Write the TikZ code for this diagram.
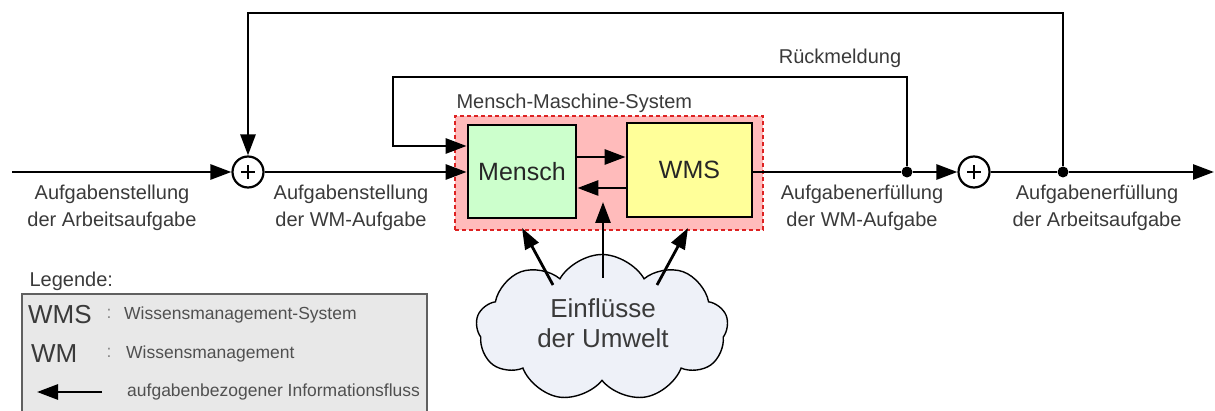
\documentclass[tikz,border=0pt]{standalone}
\usepackage{fontspec}
\setmainfont{Liberation Sans}
\usetikzlibrary{arrows.meta,shapes.symbols,calc}
\definecolor{txt}{HTML}{3A3A3A}
\definecolor{lgtxt}{HTML}{505050}
\definecolor{mfill}{HTML}{CCFFCC}
\definecolor{wfill}{HTML}{FFFF99}
\definecolor{rfill}{HTML}{FFBBBB}
\definecolor{rdash}{HTML}{DD2222}
\definecolor{cfill}{HTML}{EEF1F8}
\definecolor{lgfill}{HTML}{E8E8E8}
\definecolor{lgdraw}{HTML}{606060}
\begin{document}
\begin{tikzpicture}[x=1pt,y=-1pt,
  lbl/.style={font=\fontsize{20}{27}\selectfont, text=txt, align=center},
  ln/.style={line width=2.8pt},
  arr/.style={line width=2.8pt, -{Triangle[length=21pt,width=15pt]}},
  sumnode/.style={circle, draw, line width=2.2pt, minimum size=31pt, inner sep=0pt, fill=white,
    path picture={\draw[line width=1.8pt] ([xshift=-7pt]path picture bounding box.center) -- ([xshift=7pt]path picture bounding box.center);
                  \draw[line width=1.8pt] ([yshift=-7pt]path picture bounding box.center) -- ([yshift=7pt]path picture bounding box.center);}},
  jdot/.style={circle, fill=black, minimum size=11pt, inner sep=0pt},
  blockbox/.style={draw, line width=2.8pt, font=\fontsize{25}{30}\selectfont, text=black!85}
]
\useasboundingbox (0,0) rectangle (1215,411);

% Mensch-Maschine-System
\node[draw=rdash, fill=rfill, dashed, dash pattern=on 4pt off 3pt, line width=2.2pt,
      minimum width=308pt, minimum height=114pt, inner sep=0pt] (mms) at (609,173) {};
\node[anchor=base west, font=\fontsize{20}{24}\selectfont, text=txt] (mmslbl) at (453,109) {Mensch-Maschine-System};

\node[blockbox, fill=mfill, minimum width=108pt, minimum height=93pt, inner sep=0pt] (mensch) at (522,171.5) {Mensch};
\node[blockbox, fill=wfill, minimum width=125pt, minimum height=94pt, inner sep=0pt] (wms) at (689.5,170) {WMS};

% sums and junctions
\node[sumnode] (s1) at (248,172) {};
\node[sumnode] (s2) at (974,172) {};
\node[jdot] (j1) at (907,172) {};
\node[jdot] (j2) at (1063,172) {};

\coordinate (in) at (12,172);
\coordinate (out) at (1214,172);
\coordinate (tc) at (1063,13);
\coordinate (rb) at (393,77);
\coordinate (fb) at (393,146);

% main flow
\draw[arr] (in) -- (s1.west);
\draw[arr] (s1.east) -- (mensch.west |- s1);
\draw[ln] (wms.east |- j1) -- (j1);
\draw[arr] (j1) -- (s2.west);
\draw[ln] (s2.east) -- (j2);
\draw[arr] (j2) -- (out);

% feedback loops
\draw[arr] (j2) -- (tc) -| (s1.north);
\draw[arr] (j1) |- (rb) -- (fb) -- (mensch.west |- fb);

% inner arrows
\coordinate (up) at (576,157);
\coordinate (dn) at (576,188);
\draw[arr] (mensch.east |- up) -- (wms.west |- up);
\draw[arr] (wms.west |- dn) -- (mensch.east |- dn);

% cloud
\node[cloud, cloud puffs=9, cloud puff arc=120, cloud ignores aspect, draw, line width=1.4pt, fill=cfill,
      minimum width=252pt, minimum height=147pt, inner sep=0pt] (cloud) at (602,328) {};
\node[font=\fontsize{26}{30}\selectfont, text=txt, align=center] (cloudtxt) at (603,323) {Einflüsse\\der Umwelt};
\coordinate (a1) at (553,285);
\coordinate (b1) at (522,228);
\coordinate (a2) at (603,278);
\coordinate (b2) at (603,202);
\coordinate (a3) at (657,285);
\coordinate (b3) at (688,228);
\draw[arr] (a1) -- (b1);
\draw[arr] (a2) -- (b2);
\draw[arr] (a3) -- (b3);

% labels
\node[lbl] (l1) at (112,208) {Aufgabenstellung\\der Arbeitsaufgabe};
\node[lbl] (l2) at (351,208) {Aufgabenstellung\\der WM-Aufgabe};
\node[lbl] (r1) at (862,208) {Aufgabenerfüllung\\der WM-Aufgabe};
\node[lbl] (r2) at (1097,208) {Aufgabenerfüllung\\der Arbeitsaufgabe};
\node[lbl] (rm) at (840,58) {Rückmeldung};

% legend
\node[anchor=base west, font=\fontsize{20}{24}\selectfont, text=txt] (lgtitle) at (26,287) {Legende:};
\path[fill=lgfill, draw=lgdraw, line width=2.2pt] (22,413) -- (22,294) -- (427,294) -- (427,413);
\node[anchor=west, font=\fontsize{26}{30}\selectfont, text=txt, inner sep=0pt] (lwms) at (28,315) {WMS};
\node[anchor=west, font=\fontsize{26}{30}\selectfont, text=txt, inner sep=0pt] (lwm) at (31,354) {WM};
\node[font=\fontsize{17.5}{20}\selectfont, text=lgtxt!70] (c1) at (109,314) {:};
\node[font=\fontsize{17.5}{20}\selectfont, text=lgtxt!70] (c2) at (109,353) {:};
\node[anchor=west, font=\fontsize{17.5}{20}\selectfont, text=lgtxt, inner sep=0pt] (t1) at (124,315) {Wissensmanagement-System};
\node[anchor=west, font=\fontsize{17.5}{20}\selectfont, text=lgtxt, inner sep=0pt] (t2) at (126,354) {Wissensmanagement};
\node[anchor=west, font=\fontsize{17.5}{20}\selectfont, text=lgtxt, inner sep=0pt] (t3) at (127,392) {aufgabenbezogener Informationsfluss};
\coordinate (la) at (102,392);
\coordinate (lb) at (37,392);
\draw[arr] (la) -- (lb);
\end{tikzpicture}
\end{document}
